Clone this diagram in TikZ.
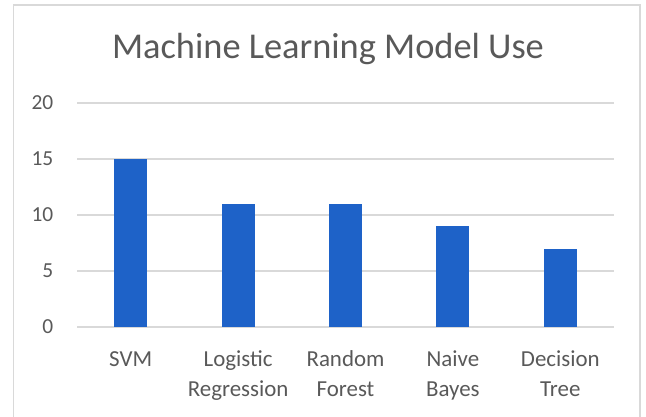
\documentclass[tikz,border=0pt]{standalone}
\usepackage{fontspec}
\setmainfont{Carlito}
\definecolor{barblue}{RGB}{30,98,200}
\definecolor{txtgray}{RGB}{89,89,89}
\definecolor{gridgray}{RGB}{217,217,217}
\begin{document}
\begin{tikzpicture}[x=1bp,y=-1bp,
  gridline/.style={draw=gridgray,line width=1.3bp},
  bar/.style={fill=barblue,draw=none},
  ticklabel/.style={text=txtgray,font=\fontsize{21.5}{26}\selectfont,anchor=east,inner sep=0pt},
  catlabel/.style={text=txtgray,font=\fontsize{23}{29.3}\selectfont,align=center,anchor=base,inner sep=0pt},
  titlelabel/.style={text=txtgray,font=\fontsize{36.5}{44}\selectfont,anchor=base,inner sep=0pt}]
\useasboundingbox (0,0) rectangle (646,416);
% chart frame (bottom edge runs past the page)
\draw[draw=gridgray,line width=1.3bp] (13.5,5) rectangle (640,430);
% title
\node[titlelabel] (title) at (328,58.3) {Machine Learning Model Use};
% horizontal grid lines and value labels
\foreach \v in {0,5,10,15,20}{
  \pgfmathsetmacro{\yy}{327-11.2*\v}
  \coordinate (gl\v) at (77,\yy);
  \coordinate (gr\v) at (614,\yy);
  \draw[gridline] (gl\v) -- (gr\v);
  \node[ticklabel] (t\v) at (53.5,\yy) {\v};
}
% bars; each label's anchor sits on the baseline of its last line
\foreach \i/\val/\name/\base in {0/15/svm/366.7,1/11/lr/396,2/11/rf/396,3/9/nb/396,4/7/dt/396}{
  \pgfmathsetmacro{\cx}{130.7+107.4*\i}
  \pgfmathsetmacro{\top}{327-11.2*\val}
  \path[bar] (\cx-16.5,\top) rectangle (\cx+16.5,327);
  \coordinate (b\name) at (\cx,\base);
}
% category labels
\node[catlabel] (csvm) at (bsvm) {SVM};
\node[catlabel] (clr) at (blr) {Logistic\\Regression};
\node[catlabel] (crf) at (brf) {Random\\Forest};
\node[catlabel] (cnb) at (bnb) {Naive\\Bayes};
\node[catlabel] (cdt) at (bdt) {Decision\\Tree};
\end{tikzpicture}
\end{document}
